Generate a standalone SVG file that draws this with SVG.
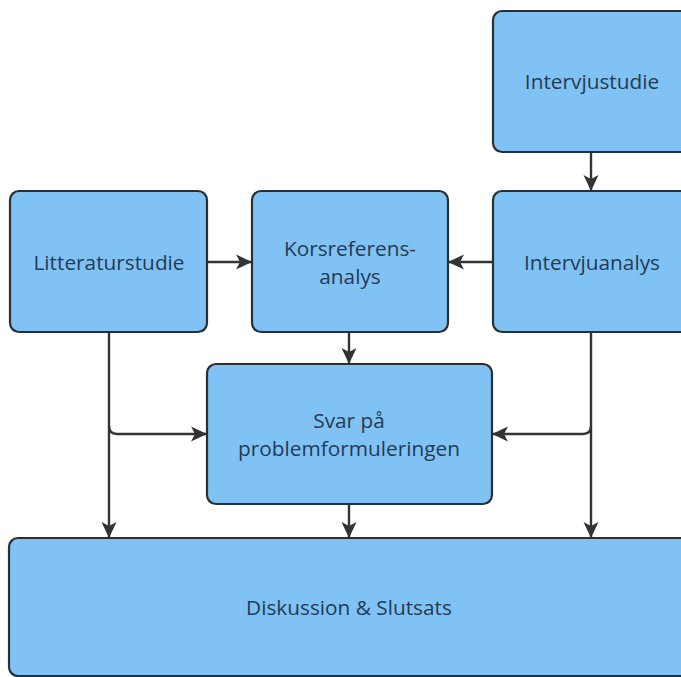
<svg xmlns="http://www.w3.org/2000/svg" width="681" height="677" viewBox="0 0 681 677">
<style>
.n{fill:#80c2f4;stroke:#2a2f33;stroke-width:2.2}
.t{font-family:"Open Sans",sans-serif;font-size:20.8px;fill:#243b53;text-anchor:middle;dominant-baseline:central}
.c{fill:none;stroke:#333;stroke-width:2.4}
</style>
<defs>
<marker id="a" viewBox="0 0 16 16" refX="15" refY="8" markerWidth="16" markerHeight="16" markerUnits="userSpaceOnUse" orient="auto">
<path d="M0,0.5 L16,8 L0,15.5 L4,8 Z" fill="#333"/>
</marker>
</defs>
<rect width="681" height="677" fill="#fff"/>
<g id="connectors">
<path class="c" d="M591,152 V190" marker-end="url(#a)"/>
<path class="c" d="M207,262 H251" marker-end="url(#a)"/>
<path class="c" d="M493,262 H449" marker-end="url(#a)"/>
<path class="c" d="M349,332 V363" marker-end="url(#a)"/>
<path class="c" d="M109,332 V537" marker-end="url(#a)"/>
<path class="c" d="M109,426 Q109,434 117,434 H206" marker-end="url(#a)"/>
<path class="c" d="M591,332 V537" marker-end="url(#a)"/>
<path class="c" d="M591,426 Q591,434 583,434 H493" marker-end="url(#a)"/>
<path class="c" d="M349,504 V537" marker-end="url(#a)"/>
</g>
<g id="intervjustudie"><rect class="n" x="493" y="11" width="200" height="141" rx="9"/><text class="t" x="592" y="81">Intervjustudie</text></g>
<g id="litteraturstudie"><rect class="n" x="10" y="191" width="197" height="141" rx="9"/><text class="t" x="109" y="262">Litteraturstudie</text></g>
<g id="korsreferens"><rect class="n" x="252" y="191" width="196" height="141" rx="9"/><text class="t" x="350" y="248">Korsreferens-</text><text class="t" x="350" y="276">analys</text></g>
<g id="intervjuanalys"><rect class="n" x="493" y="191" width="200" height="141" rx="9"/><text class="t" x="592" y="262">Intervjuanalys</text></g>
<g id="svar"><rect class="n" x="207" y="364" width="285" height="140" rx="9"/><text class="t" x="349" y="420">Svar på</text><text class="t" x="349" y="448">problemformuleringen</text></g>
<g id="diskussion"><rect class="n" x="9" y="538" width="690" height="138" rx="9"/><text class="t" x="349" y="607">Diskussion &amp; Slutsats</text></g>
</svg>
